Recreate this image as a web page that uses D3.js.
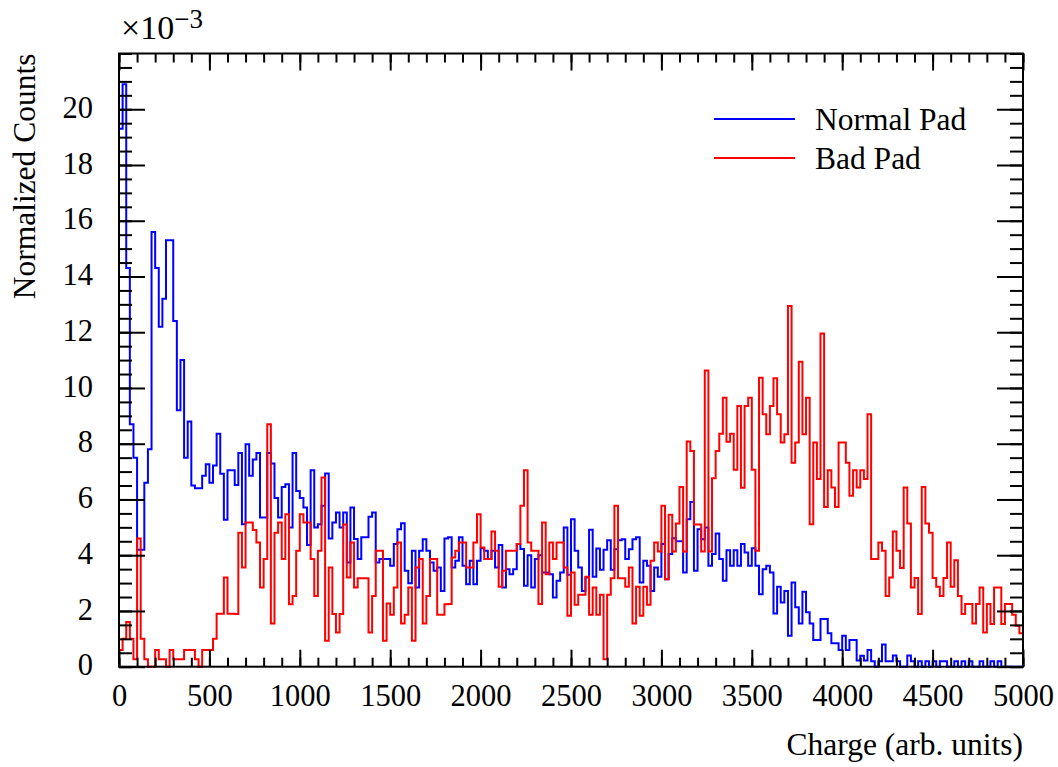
<!DOCTYPE html>
<html>
<head>
<meta charset="utf-8">
<script src="https://cdn.jsdelivr.net/npm/d3@7"></script>
<style>
  body { margin: 0; background: #fff; }
  svg { display: block; }
  text { font-family: "Liberation Serif", "DejaVu Serif", serif; fill: #000; }
</style>
</head>
<body>
<div class="chart-container"></div>
<script>
// 250 bins of 20 charge units, values in units of 1e-3
const binWidth = 20;
const normalPad = [
  19.3, 20.9, 14.3, 8.7, 7.5, 4.2, 4.2, 6.6, 7.8, 15.6,
  14.3, 12.2, 13.2, 15.3, 15.3, 12.4, 9.2, 11.0, 7.5, 8.8,
  6.5, 6.4, 6.4, 6.85, 7.26, 6.6, 7.22, 8.36, 6.92, 5.27,
  7.05, 7.05, 6.52, 7.67, 5.11, 7.98, 6.85, 7.43, 7.67, 5.35,
  5.35, 7.67, 7.29, 6.05, 5.35, 6.45, 6.55, 4.99, 7.67, 6.3,
  6.05, 5.71, 4.37, 7.05, 4.99, 5.11, 5.77, 6.93, 4.6, 5.17,
  5.53, 4.99, 5.53, 3.74, 5.71, 4.58, 3.86, 4.64, 4.64, 5.38,
  5.53, 3.74, 3.86, 3.86, 3.86, 3.62, 4.4, 4.93, 5.15, 3.44,
  2.99, 4.16, 2.84, 4.16, 4.57, 4.16, 3.74, 3.44, 3.56, 2.72,
  4.6, 4.64, 3.56, 3.8, 4.64, 3.62, 2.96, 3.8, 2.96, 3.8,
  4.25, 4.16, 3.86, 4.16, 3.56, 4.37, 2.84, 3.5, 3.32, 3.5,
  4.4, 4.22, 2.9, 4.0, 2.84, 3.86, 4.0, 3.38, 3.38, 3.32,
  2.48, 3.08, 3.38, 4.99, 3.3, 5.29, 4.16, 3.56, 2.72, 3.2,
  4.91, 3.23, 4.24, 3.48, 4.2, 4.54, 3.48, 4.21, 4.54, 4.57,
  3.86, 4.21, 4.57, 4.64, 3.02, 3.8, 3.62, 2.72, 3.56, 3.23,
  4.4, 3.14, 4.04, 4.61, 4.5, 4.5, 3.38, 5.29, 5.91, 3.44,
  4.93, 4.57, 4.99, 3.62, 4.04, 4.78, 3.86, 3.08, 4.18, 3.62,
  4.18, 3.62, 4.4, 4.1, 3.62, 4.25, 3.62, 2.6, 3.5, 3.62,
  3.38, 1.91, 2.87, 2.3, 2.72, 1.11, 3.02, 2.13, 1.55, 2.69,
  1.95, 1.55, 0.96, 0.96, 1.71, 1.71, 1.2, 0.84, 0.84, 0.6,
  1.11, 0.6, 0.96, 0.96, 0.22, 0.39, 0.22, 0.6, 0.2, 0,
  0.2, 0.8, 0.2, 0.2, 0.4, 0.2, 0, 0, 0.4, 0.2,
  0, 0.2, 0, 0.2, 0, 0.2, 0, 0.2, 0.2, 0,
  0, 0.2, 0, 0.2, 0, 0.2, 0, 0, 0.2, 0,
  0, 0.2, 0, 0.2, 0, 0, 0, 0, 0, 0
];
const badPad = [
  0.6, 1.0, 1.6, 1.0, 0.27, 4.6, 1.0, 0.27, 0, 0,
  0.6, 0.27, 0.27, 0, 0.6, 0.27, 0.27, 0.27, 0.6, 0.6,
  0.6, 0.27, 0, 0.6, 0.6, 0.6, 1.0, 1.9, 1.9, 3.2,
  1.9, 1.9, 1.89, 4.81, 3.56, 5.17, 5.17, 4.9, 4.46, 2.84,
  3.86, 8.7, 1.55, 4.81, 5.17, 3.86, 5.47, 2.24, 2.54, 4.16,
  5.47, 5.17, 5.17, 3.86, 2.54, 4.16, 6.79, 0.93, 3.56, 1.89,
  1.23, 1.89, 5.1, 3.2, 4.46, 2.84, 3.17, 3.17, 3.17, 1.23,
  2.54, 4.16, 4.16, 0.93, 2.27, 1.86, 2.84, 4.46, 1.55, 1.86,
  2.84, 0.93, 3.56, 3.86, 1.55, 2.54, 3.86, 3.86, 1.86, 1.86,
  2.24, 2.25, 3.92, 4.16, 4.46, 4.46, 3.56, 3.56, 4.46, 5.47,
  4.28, 3.86, 3.86, 4.85, 4.16, 2.87, 3.44, 4.16, 4.16, 4.16,
  4.4, 5.77, 7.05, 4.46, 4.16, 4.16, 2.25, 5.17, 3.32, 4.46,
  3.86, 4.46, 4.46, 3.56, 1.83, 3.38, 2.22, 2.58, 2.58, 3.23,
  1.86, 2.84, 1.86, 2.58, 0.27, 2.58, 3.17, 5.77, 3.17, 3.17,
  2.87, 3.56, 1.55, 2.87, 1.83, 2.87, 2.22, 3.8, 4.46, 4.13,
  5.77, 3.14, 5.45, 4.13, 5.14, 6.45, 4.13, 8.08, 7.74, 5.1,
  5.1, 4.13, 10.63, 4.13, 6.76, 7.74, 8.36, 9.65, 8.07, 8.36,
  7.07, 9.35, 6.42, 9.35, 9.65, 7.07, 4.16, 10.37, 9.06, 8.34,
  9.35, 10.35, 9.06, 8.04, 8.34, 12.94, 7.32, 8.04, 10.94, 8.34,
  9.65, 5.11, 8.04, 6.73, 11.95, 5.73, 7.05, 6.43, 5.73, 8.04,
  8.04, 7.32, 6.13, 7.05, 6.43, 7.05, 6.73, 9.06, 3.86, 3.86,
  4.46, 4.16, 2.54, 3.2, 4.85, 4.16, 3.54, 6.43, 5.14, 2.84,
  3.18, 1.89, 6.45, 5.14, 4.81, 3.18, 2.87, 2.54, 3.18, 4.46,
  2.87, 3.82, 2.54, 1.89, 2.25, 2.25, 1.55, 2.25, 2.84, 1.23,
  2.25, 1.53, 2.84, 2.84, 1.53, 2.25, 2.25, 1.86, 1.47, 1.2
];
const xMajorTicks = d3.range(0, 5001, 500);
const xMinorTicks = d3.range(0, 5001, 100);
const yMajorTicks = d3.range(0, 21, 2);
const yMinorTicks = d3.range(0, 22.01, 0.5);
const legendLabels = ["Normal Pad", "Bad Pad"];
const seriesColors = ["#0000ff", "#ff0000"];

const W = 1058, H = 767;
const margin = { top: 53.5, right: 35, bottom: 100.3, left: 119 };
const width = W - margin.left - margin.right,
      height = H - margin.top - margin.bottom;

const svg = d3.select(".chart-container").append("svg")
    .attr("width", W)
    .attr("height", H);

const g = svg.append("g")
    .attr("transform", "translate(" + margin.left + "," + margin.top + ")");

const x = d3.scaleLinear().domain([0, 5000]).range([0, width]);
const y = d3.scaleLinear().domain([0, 22]).range([height, 0]);

function stepPoints(values) {
    const pts = [[0, 0]];
    values.forEach((v, i) => pts.push([i * binWidth, v]));
    pts.push([values.length * binWidth, values[values.length - 1]]);
    return pts;
}

const histLine = d3.line()
    .x(d => x(d[0]))
    .y(d => y(d[1]))
    .curve(d3.curveStepAfter);

[normalPad, badPad].forEach((vals, k) => {
    g.append("path")
        .datum(stepPoints(vals))
        .attr("d", histLine)
        .attr("fill", "none")
        .attr("stroke", seriesColors[k])
        .attr("stroke-width", 2);
});

// ticks on all four sides, pointing inward
function styleAxis(sel) {
    sel.select(".domain").remove();
    sel.selectAll("line").attr("stroke", "#000").attr("stroke-width", 2);
}

g.append("g").attr("transform", "translate(0," + height + ")")
    .call(d3.axisBottom(x).tickValues(xMinorTicks).tickSize(-9).tickFormat(""))
    .call(styleAxis);
g.append("g").attr("transform", "translate(0," + height + ")")
    .call(d3.axisBottom(x).tickValues(xMajorTicks).tickSize(-17).tickPadding(18)
        .tickFormat(d3.format("d")))
    .call(styleAxis)
    .call(s => s.selectAll("text").attr("font-size", 30.5).attr("dy", "0.71em")
        .style("font-family", "Liberation Serif"));
g.append("g")
    .call(d3.axisTop(x).tickValues(xMinorTicks).tickSize(-9).tickFormat(""))
    .call(styleAxis);
g.append("g")
    .call(d3.axisTop(x).tickValues(xMajorTicks).tickSize(-17).tickFormat(""))
    .call(styleAxis);

g.append("g")
    .call(d3.axisLeft(y).tickValues(yMinorTicks).tickSize(-13).tickFormat(""))
    .call(styleAxis);
g.append("g")
    .call(d3.axisLeft(y).tickValues(yMajorTicks).tickSize(-26).tickPadding(26))
    .call(styleAxis)
    .call(s => s.selectAll("text").attr("font-size", 30.5).attr("dy", "0.27em")
        .style("font-family", "Liberation Serif"));
g.append("g").attr("transform", "translate(" + width + ",0)")
    .call(d3.axisRight(y).tickValues(yMinorTicks).tickSize(-13).tickFormat(""))
    .call(styleAxis);
g.append("g").attr("transform", "translate(" + width + ",0)")
    .call(d3.axisRight(y).tickValues(yMajorTicks).tickSize(-26).tickFormat(""))
    .call(styleAxis);

// frame
g.append("rect")
    .attr("x", 0).attr("y", 0)
    .attr("width", width).attr("height", height)
    .attr("fill", "none")
    .attr("stroke", "#000")
    .attr("stroke-width", 2);

// exponent label
const expo = svg.append("text")
    .attr("x", 121)
    .attr("y", 38.5)
    .attr("font-size", 34);
expo.append("tspan").text("\u00d710");
expo.append("tspan").attr("font-size", 27).attr("dy", -11).text("\u22123");

// axis titles
svg.append("text")
    .attr("x", margin.left + width)
    .attr("y", 755)
    .attr("text-anchor", "end")
    .attr("font-size", 31.5)
    .text("Charge (arb. units)");

svg.append("text")
    .attr("transform", "translate(35," + margin.top + ") rotate(-90)")
    .attr("text-anchor", "end")
    .attr("font-size", 31.5)
    .text("Normalized Counts");

// legend
const legend = svg.append("g").attr("transform", "translate(714,119)");
legendLabels.forEach((lab, i) => {
    const row = legend.append("g").attr("transform", "translate(0," + i * 39 + ")");
    row.append("line")
        .attr("x1", 0).attr("x2", 81)
        .attr("y1", 0).attr("y2", 0)
        .attr("stroke", seriesColors[i])
        .attr("stroke-width", 2);
    row.append("text")
        .attr("x", 101)
        .attr("y", 10.5)
        .attr("font-size", 31.5)
        .text(lab);
});
</script>
</body>
</html>
